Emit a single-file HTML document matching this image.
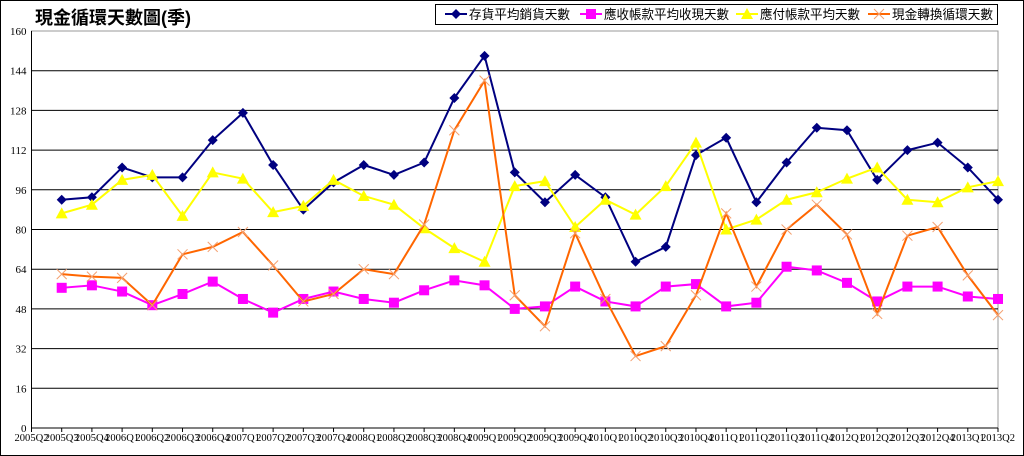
<!DOCTYPE html>
<html><head><meta charset="utf-8"><style>
body{margin:0;background:#fff;}
svg{display:block;font-family:"Liberation Serif","Noto Serif CJK SC",serif;}
</style></head><body>
<svg id="chart" width="1024" height="456">
<rect x="0.5" y="0.5" width="1023" height="455" fill="#fff" stroke="#000"/>
<text x="35" y="24" font-size="18" font-weight="bold" font-family="'Liberation Sans','Noto Sans CJK TC',sans-serif">現金循環天數圖(季)</text>
<g id="grid"></g><g id="axes"></g><g id="series"></g>
<g>
<rect x="435.5" y="4.5" width="562" height="20" fill="#fff" stroke="#000"/>
<g id="legend"></g>
</g>
</svg>
<script>
const categories=["2005Q2","2005Q3","2005Q4","2006Q1","2006Q2","2006Q3","2006Q4","2007Q1","2007Q2","2007Q3","2007Q4","2008Q1","2008Q2","2008Q3","2008Q4","2009Q1","2009Q2","2009Q3","2009Q4","2010Q1","2010Q2","2010Q3","2010Q4","2011Q1","2011Q2","2011Q3","2011Q4","2012Q1","2012Q2","2012Q3","2012Q4","2013Q1","2013Q2"];
const inventoryDays=[null,92,93,105,101,101,116,127,106,88,99,106,102,107,133,150,103,91,102,93,67,73,110,117,91,107,121,120,100,112,115,105,92];
const receivableDays=[null,56.5,57.5,55,49.5,54,59,52,46.5,52,55,52,50.5,55.5,59.5,57.5,48,49,57,51,49,57,58,49,50.5,65,63.5,58.5,51,57,57,53,52];
const payableDays=[null,86.5,90,100,102,85.5,103,100.5,87,89.5,100,93.5,90,80.5,72.5,67,97.5,99.5,81,92,86,97.5,115,80,84,92,95,100.5,105,92,91,97,99.5];
const cashCycleDays=[null,62,61,60.5,49.5,70,73,79,65.5,51,54,64,62,82,120,140,53.5,41,78.5,52,29,33,53.5,86.5,57,80,90,78,46,77.5,81,61.5,45.5];
const yTicks=[0,16,32,48,64,80,96,112,128,144,160];
const seriesNames=["存貨平均銷貨天數","應收帳款平均收現天數","應付帳款平均天數","現金轉換循環天數"];

const NS="http://www.w3.org/2000/svg";
const L=31.5,R=998,T=31,B=428;
const x=i=>L+(R-L)*i/(categories.length-1);
const y=v=>B-(B-T)*v/160;
function mk(tag,attrs,parent){const e=document.createElementNS(NS,tag);for(const k in attrs)e.setAttribute(k,attrs[k]);parent.appendChild(e);return e;}
const grid=document.getElementById('grid'),axes=document.getElementById('axes'),ser=document.getElementById('series'),leg=document.getElementById('legend');
mk('rect',{x:L,y:T,width:R-L,height:B-T,fill:'none',stroke:'#999'},grid);
yTicks.forEach(v=>{
 if(v>0&&v<160){const g=mk('line',{x1:L,x2:R,y1:y(v),y2:y(v),stroke:'#000','stroke-width':1},grid);
 
 }
 const t=mk('text',{x:L-5,y:y(v)+4,'font-size':11,'text-anchor':'end'},axes);t.textContent=v;
 
 
});
mk('line',{x1:L,x2:L,y1:T,y2:B,stroke:'#000'},axes);
mk('line',{x1:L,x2:R,y1:B,y2:B,stroke:'#000'},axes);
categories.forEach((c,i)=>{
 mk('line',{x1:x(i),x2:x(i),y1:B,y2:B+4,stroke:'#000'},axes);
 const t=mk('text',{x:x(i),y:B+13,'font-size':10,'text-anchor':'middle',textLength:34,lengthAdjust:'spacingAndGlyphs'},axes);t.textContent=c;
 
 
});
function marker(type,cx,cy,color,p){
 if(type==='diamond')return mk('polygon',{points:`${cx},${cy-5} ${cx+5},${cy} ${cx},${cy+5} ${cx-5},${cy}`,fill:color},p);
 if(type==='square')return mk('rect',{x:cx-5,y:cy-5,width:10,height:10,fill:color},p);
 if(type==='triangle')return mk('polygon',{points:`${cx},${cy-6} ${cx+6},${cy+5} ${cx-6},${cy+5}`,fill:color},p);
 const g=mk('g',{stroke:'#f4a070','stroke-width':1},p);
 mk('line',{x1:cx-5,y1:cy-5,x2:cx+5,y2:cy+5},g);mk('line',{x1:cx-5,y1:cy+5,x2:cx+5,y2:cy-5},g);return g;
}
const defs=[[inventoryDays,'#000080','diamond','inventory'],[receivableDays,'#ff00ff','square','receivable'],[payableDays,'#ffff00','triangle','payable'],[cashCycleDays,'#ff6600','x','cash-cycle']];
defs.forEach(([data,color,m,name])=>{
 const g=mk('g',{},ser);
 
 
 const pts=[];data.forEach((v,i)=>{if(v!=null)pts.push(x(i)+','+y(v));});
 mk('polyline',{points:pts.join(' '),fill:'none',stroke:color,'stroke-width':2},g);
 data.forEach((v,i)=>{if(v!=null){const e=marker(m,x(i),y(v),color,g);
 
 }});
});
const legX=[445,580,736,868];
const legW=[101,125,100,101];
defs.forEach(([d,color,m,name],k)=>{
 const g=mk('g',{},leg);
 
 
 mk('line',{x1:legX[k],x2:legX[k]+22,y1:14,y2:14,stroke:color,'stroke-width':2},g);
 marker(m,legX[k]+11,14,color,g);
 const t=mk('text',{x:legX[k]+24,y:19,'font-size':13,textLength:legW[k],lengthAdjust:'spacingAndGlyphs','font-family':"'Liberation Sans','Noto Sans CJK TC',sans-serif"},g);t.textContent=seriesNames[k];
});
</script>
</body></html>
